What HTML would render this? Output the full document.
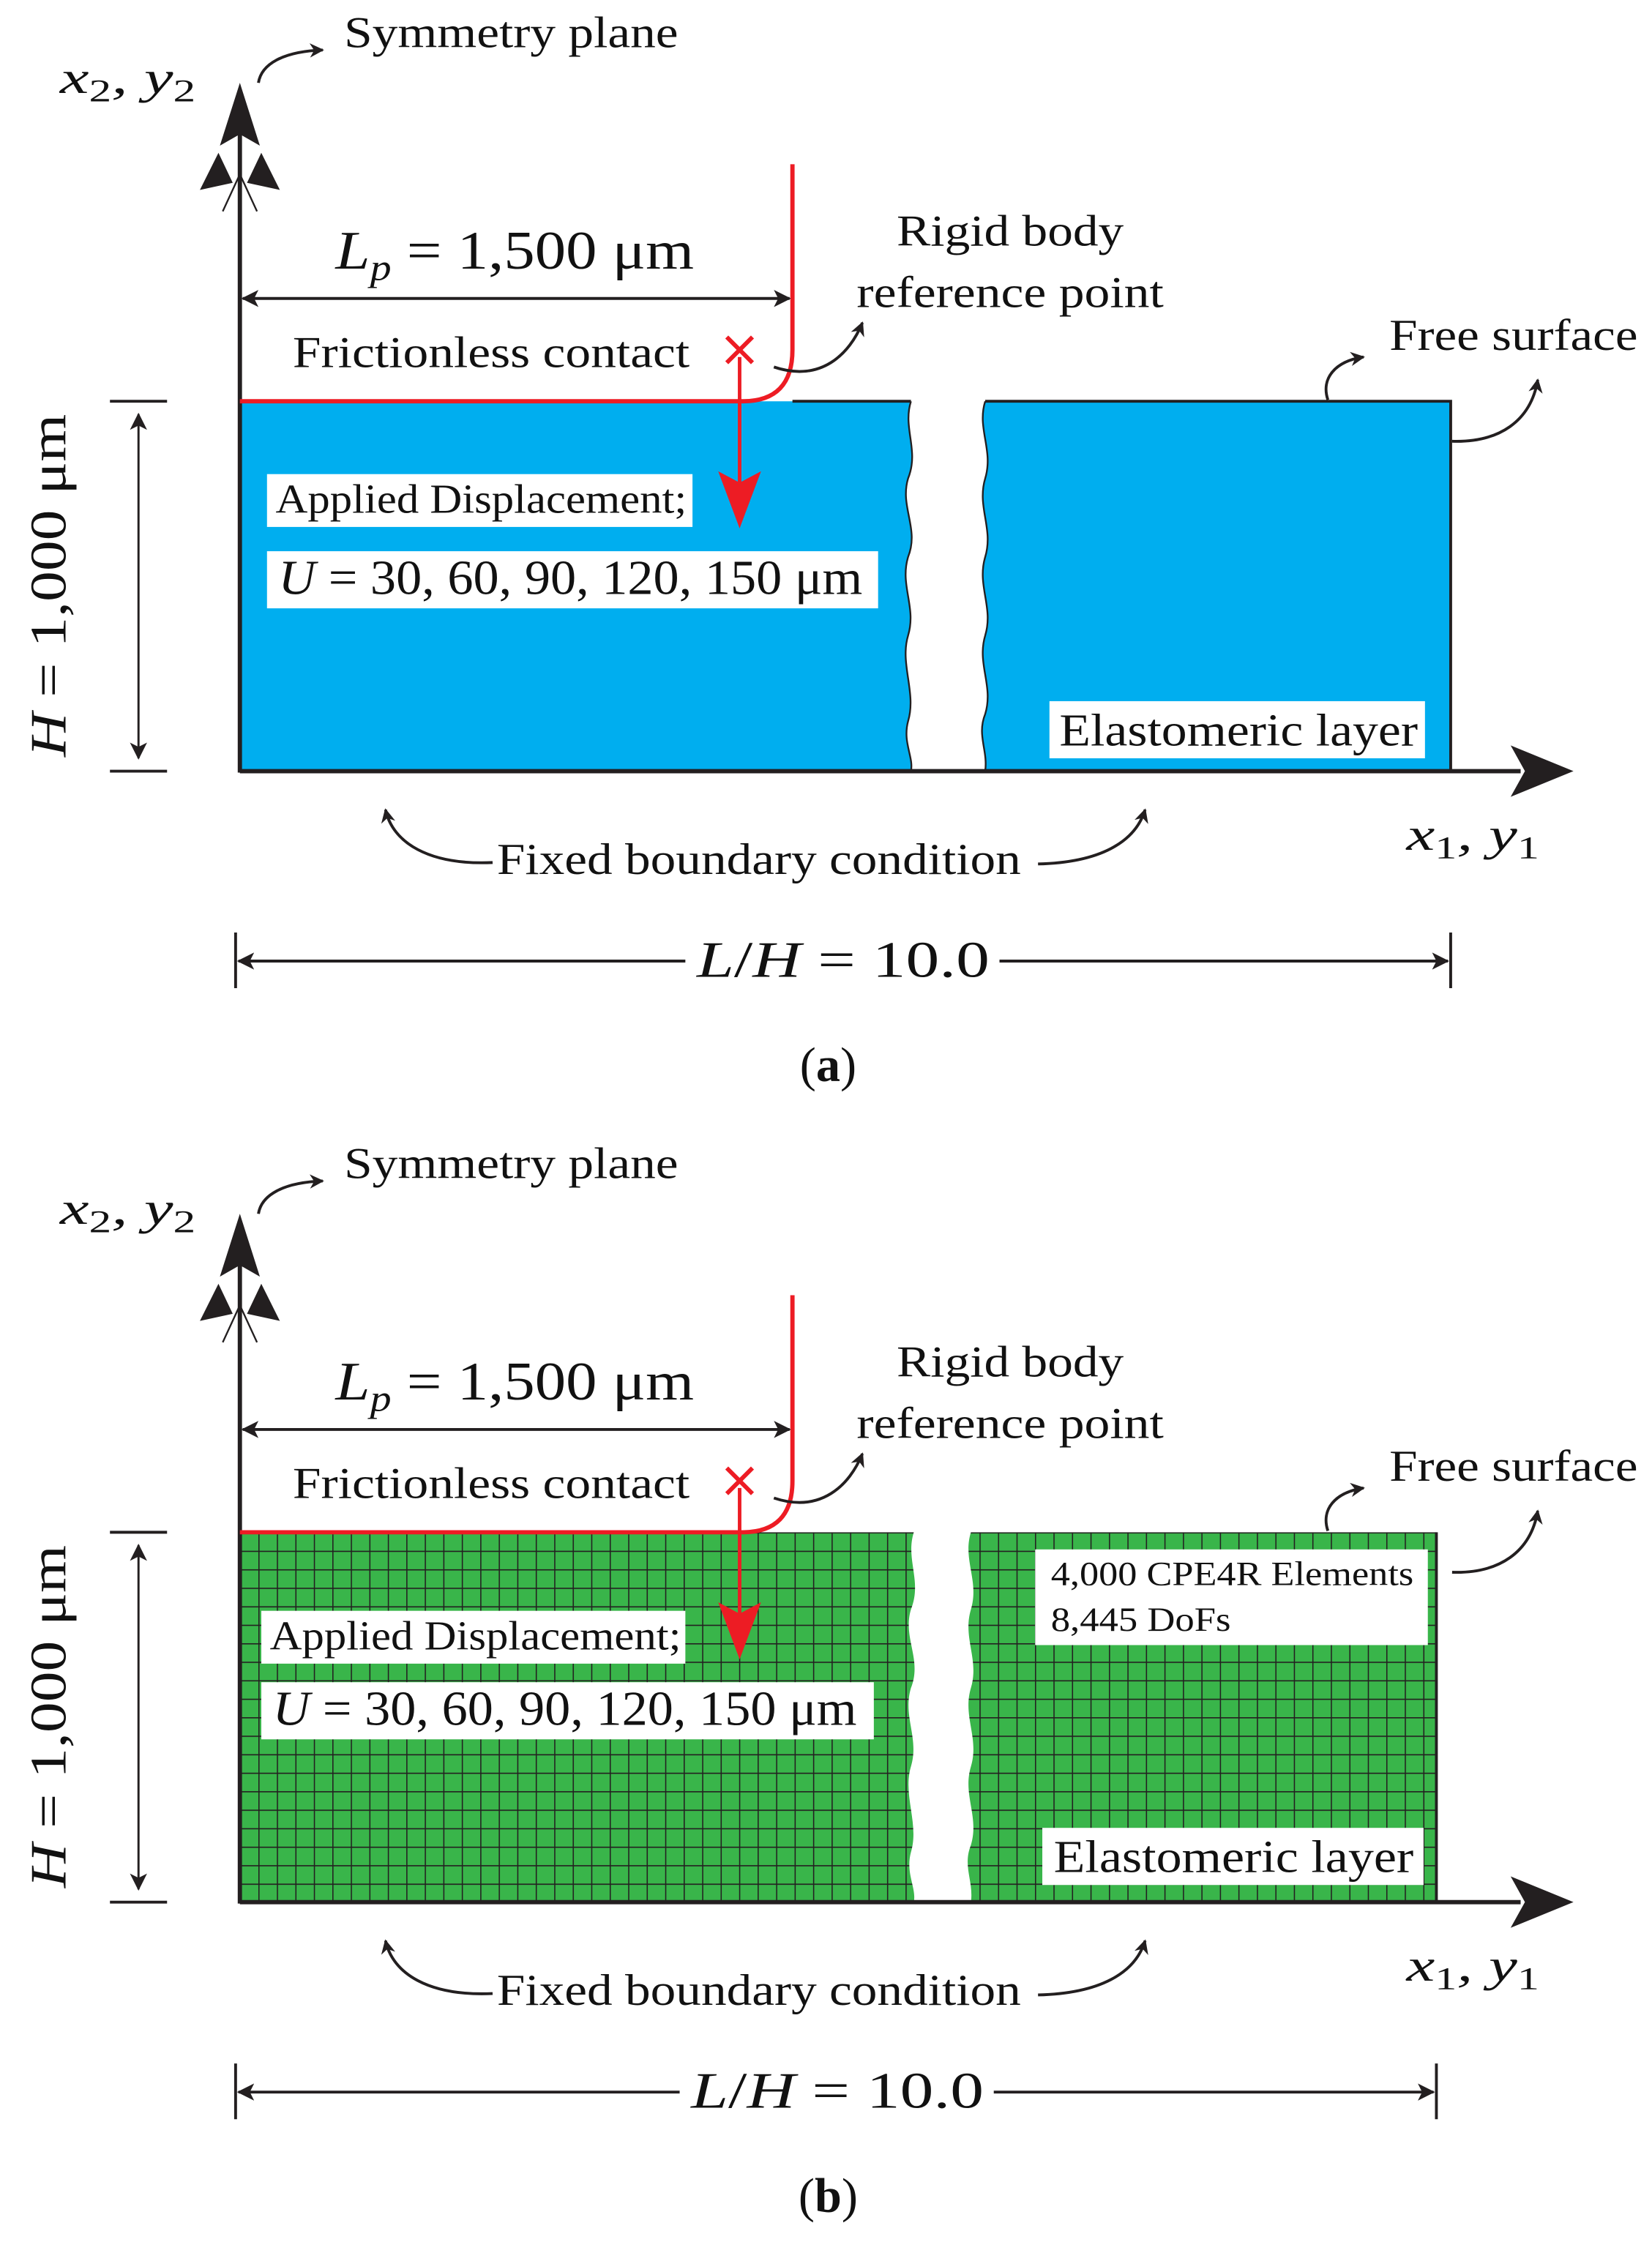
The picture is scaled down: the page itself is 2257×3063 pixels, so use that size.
<!DOCTYPE html>
<html><head><meta charset="utf-8"><style>
html,body{margin:0;padding:0;background:#fff;}
svg{display:block;}
text{font-family:"Liberation Serif",serif;fill:#111;}
</style></head><body>
<svg width="2257" height="3063" viewBox="0 0 1157 1570" preserveAspectRatio="none" xmlns="http://www.w3.org/2000/svg">
<defs>
<pattern id="mesh" x="168" y="1073" width="12.95" height="12.95" patternUnits="userSpaceOnUse">
<rect width="12.95" height="12.95" fill="#39b54a"/>
<path d="M0 0H12.95M0 0V12.95" stroke="#231f20" stroke-width="1.6" fill="none"/>
</pattern>
<marker id="ah" markerWidth="10" markerHeight="10" refX="9" refY="5" orient="auto" markerUnits="userSpaceOnUse"><path d="M0 0L10 5L0 10L3 5Z" fill="#231f20"/></marker>
<marker id="ahs" markerWidth="12" markerHeight="12" refX="11" refY="6" orient="auto" markerUnits="userSpaceOnUse"><path d="M0 0L12 6L0 12L3 6Z" fill="#231f20"/></marker>
<marker id="ahst" markerWidth="12" markerHeight="12" refX="1" refY="6" orient="auto" markerUnits="userSpaceOnUse"><path d="M12 0L0 6L12 12L9 6Z" fill="#231f20"/></marker>
</defs>

<g id="A">
<path d="M168 281H638 C632 300,644 315,636 335 C630 355,644 370,636 390 C630 410,642 425,636 445 C630 465,642 485,636 505 C632 520,640 530,638 540 H168Z" fill="#00aeef"/>
<path d="M690 281H1016V540H690 C692 525,684 515,690 500 C696 480,684 465,690 445 C696 425,684 410,690 390 C696 370,684 355,690 335 C696 315,684 300,690 281Z" fill="#00aeef"/>
<path d="M638 281 C632 300,644 315,636 335 C630 355,644 370,636 390 C630 410,642 425,636 445 C630 465,642 485,636 505 C632 520,640 530,638 540" stroke="#231f20" stroke-width="1.2" fill="none"/>
<path d="M690 281 C684 300,696 315,690 335 C684 355,696 370,690 390 C684 410,696 425,690 445 C684 465,696 480,690 500 C684 515,692 525,690 540" stroke="#231f20" stroke-width="1.2" fill="none"/>
<path d="M555 281H638M690 281H1016V540" stroke="#231f20" stroke-width="2" fill="none"/>
</g>

<g id="common">
<line x1="168" y1="541" x2="168" y2="92" stroke="#231f20" stroke-width="3"/>
<path d="M168 58 L182 102 L168 94 L154 102Z" fill="#231f20"/>
<path d="M140 133 L153 107 L163 128Z M196 133 L183 107 L173 128Z" fill="#231f20"/>
<path d="M156 148 L168 122 L180 148" stroke="#231f20" stroke-width="1.2" fill="none"/>
<line x1="168" y1="540" x2="1065" y2="540" stroke="#231f20" stroke-width="3"/>
<path d="M1102 540 L1058 522 L1068 540 L1058 558Z" fill="#231f20"/>
<path d="M168 281H520 Q555 281 555 245 V115" stroke="#ed1c24" stroke-width="3" fill="none"/>
<line x1="518" y1="250" x2="518" y2="340" stroke="#ed1c24" stroke-width="2.5"/>
<path d="M518 370 L503 330 L518 338 L533 330Z" fill="#ed1c24"/>
<path d="M509 236 L527 254 M527 236 L509 254" stroke="#ed1c24" stroke-width="3"/>
<line x1="170" y1="209" x2="553" y2="209" stroke="#231f20" stroke-width="2" marker-start="url(#ahst)" marker-end="url(#ahs)"/>
<text x="235" y="188" font-size="38" textLength="251" lengthAdjust="spacingAndGlyphs"><tspan font-style="italic">L</tspan><tspan font-style="italic" font-size="26" dy="8">p</tspan><tspan dy="-8"> = 1,500 μm</tspan></text>
<text x="205" y="257" font-size="31" textLength="278" lengthAdjust="spacingAndGlyphs">Frictionless contact</text>
<text x="628" y="172" font-size="31" textLength="159" lengthAdjust="spacingAndGlyphs">Rigid body</text>
<text x="600" y="215" font-size="31" textLength="215" lengthAdjust="spacingAndGlyphs">reference point</text>
<path d="M542 257 C575 268,595 248,604 226" stroke="#231f20" stroke-width="2" fill="none" marker-end="url(#ah)"/>
<text x="241" y="33" font-size="31" textLength="234" lengthAdjust="spacingAndGlyphs">Symmetry plane</text>
<path d="M181 58 C183 45,198 36,226 35" stroke="#231f20" stroke-width="2" fill="none" marker-end="url(#ah)"/>
<text x="42" y="65" font-size="32" font-style="italic" textLength="95" lengthAdjust="spacingAndGlyphs">x<tspan font-style="normal" font-size="22" dy="6">2</tspan><tspan dy="-6">, y</tspan><tspan font-style="normal" font-size="22" dy="6">2</tspan></text>
<path d="M77 281H117M77 540H117" stroke="#231f20" stroke-width="2"/>
<line x1="97" y1="290" x2="97" y2="531" stroke="#231f20" stroke-width="1.5" marker-start="url(#ahst)" marker-end="url(#ahs)"/>
<text transform="translate(46,410) rotate(-90)" x="-120" font-size="36" textLength="240" lengthAdjust="spacingAndGlyphs"><tspan font-style="italic">H</tspan> = 1,000 μm</text>
<text x="348" y="612" font-size="31" textLength="367" lengthAdjust="spacingAndGlyphs">Fixed boundary condition</text>
<path d="M345 604 C300 606,275 590,270 567" stroke="#231f20" stroke-width="2" fill="none" marker-end="url(#ah)"/>
<path d="M727 605 C770 604,795 590,802 567" stroke="#231f20" stroke-width="2" fill="none" marker-end="url(#ah)"/>
<text x="985" y="595" font-size="32" font-style="italic" textLength="93" lengthAdjust="spacingAndGlyphs">x<tspan font-style="normal" font-size="22" dy="6">1</tspan><tspan dy="-6">, y</tspan><tspan font-style="normal" font-size="22" dy="6">1</tspan></text>
</g>

<text x="973" y="245" font-size="31" textLength="174" lengthAdjust="spacingAndGlyphs">Free surface</text>
<path d="M930 280 C925 265,935 253,955 250" stroke="#231f20" stroke-width="2" fill="none" marker-end="url(#ah)"/>
<path d="M1017 309 C1050 310,1072 295,1077 266" stroke="#231f20" stroke-width="2" fill="none" marker-end="url(#ah)"/>
<rect x="187" y="332" width="298" height="37" fill="#fff"/>
<text x="193" y="359" font-size="29" textLength="288" lengthAdjust="spacingAndGlyphs">Applied Displacement;</text>
<rect x="187" y="386" width="428" height="40" fill="#fff"/>
<text x="195" y="416" font-size="34" textLength="409" lengthAdjust="spacingAndGlyphs"><tspan font-style="italic">U</tspan> = 30, 60, 90, 120, 150 μm</text>
<rect x="735" y="491" width="263" height="40" fill="#fff"/>
<text x="742" y="522" font-size="32" textLength="251" lengthAdjust="spacingAndGlyphs">Elastomeric layer</text>
<path d="M165 653V692M1016 653V692" stroke="#231f20" stroke-width="2"/>
<line x1="167" y1="673" x2="480" y2="673" stroke="#231f20" stroke-width="2" marker-start="url(#ahst)"/>
<line x1="700" y1="673" x2="1014" y2="673" stroke="#231f20" stroke-width="2" marker-end="url(#ahs)"/>
<text x="488" y="684" font-size="36" textLength="205" lengthAdjust="spacingAndGlyphs"><tspan font-style="italic">L</tspan>/<tspan font-style="italic">H</tspan> = 10.0</text>
<text x="580" y="757" font-size="34" text-anchor="middle">(<tspan font-weight="bold">a</tspan>)</text>

<path d="M168 1073H640 C634 1092,646 1107,638 1127 C632 1147,646 1162,638 1182 C632 1202,644 1217,638 1237 C632 1257,644 1277,638 1297 C634 1312,642 1322,640 1332 H168Z" fill="url(#mesh)"/>
<path d="M680 1073H1006V1332H680 C682 1317,674 1307,680 1292 C686 1272,674 1257,680 1237 C686 1217,674 1202,680 1182 C686 1162,674 1147,680 1127 C686 1107,674 1092,680 1073Z" fill="url(#mesh)"/>
<path d="M1006 1073V1332" stroke="#231f20" stroke-width="2"/>
<use href="#common" transform="translate(0,792)"/>
<text x="973" y="1037" font-size="31" textLength="174" lengthAdjust="spacingAndGlyphs">Free surface</text>
<path d="M930 1072 C925 1057,935 1045,955 1042" stroke="#231f20" stroke-width="2" fill="none" marker-end="url(#ah)"/>
<path d="M1017 1101 C1050 1102,1072 1087,1077 1058" stroke="#231f20" stroke-width="2" fill="none" marker-end="url(#ah)"/>
<rect x="725" y="1085" width="275" height="67" fill="#fff"/>
<text x="736" y="1110" font-size="24" textLength="254" lengthAdjust="spacingAndGlyphs">4,000 CPE4R Elements</text>
<text x="736" y="1142" font-size="24" textLength="126" lengthAdjust="spacingAndGlyphs">8,445 DoFs</text>
<rect x="183" y="1128" width="297" height="37" fill="#fff"/>
<text x="189" y="1155" font-size="29" textLength="288" lengthAdjust="spacingAndGlyphs">Applied Displacement;</text>
<rect x="183" y="1178" width="429" height="40" fill="#fff"/>
<text x="191" y="1208" font-size="34" textLength="409" lengthAdjust="spacingAndGlyphs"><tspan font-style="italic">U</tspan> = 30, 60, 90, 120, 150 μm</text>
<rect x="730" y="1280" width="267" height="40" fill="#fff"/>
<text x="738" y="1311" font-size="32" textLength="252" lengthAdjust="spacingAndGlyphs">Elastomeric layer</text>
<path d="M165 1445V1484M1006 1445V1484" stroke="#231f20" stroke-width="2"/>
<line x1="167" y1="1465" x2="476" y2="1465" stroke="#231f20" stroke-width="2" marker-start="url(#ahst)"/>
<line x1="696" y1="1465" x2="1004" y2="1465" stroke="#231f20" stroke-width="2" marker-end="url(#ahs)"/>
<text x="484" y="1476" font-size="36" textLength="205" lengthAdjust="spacingAndGlyphs"><tspan font-style="italic">L</tspan>/<tspan font-style="italic">H</tspan> = 10.0</text>
<text x="580" y="1549" font-size="34" text-anchor="middle">(<tspan font-weight="bold">b</tspan>)</text>
</svg>
</body></html>
